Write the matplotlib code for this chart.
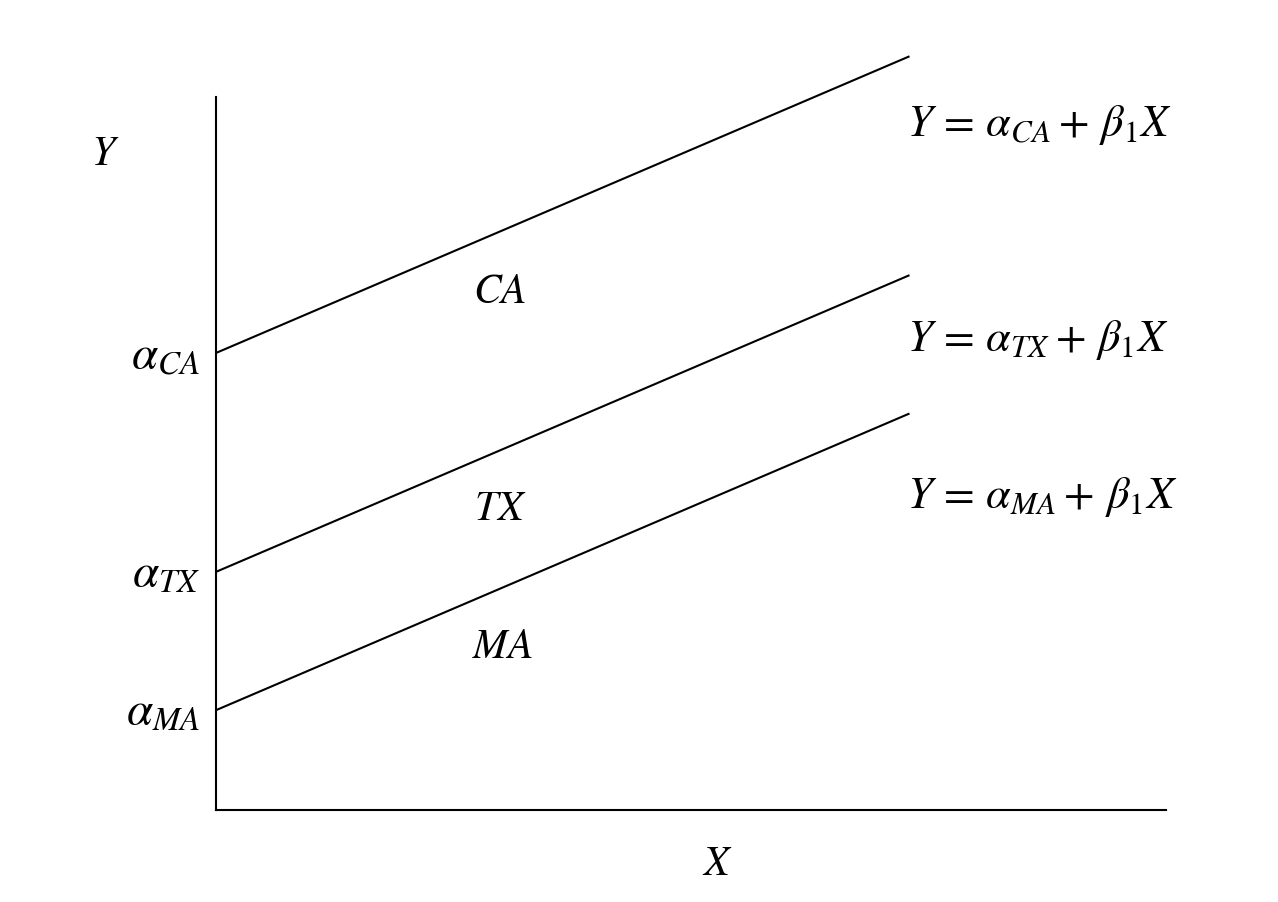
import matplotlib.pyplot as plt
import numpy as np

plt.rcParams['mathtext.fontset'] = 'stix'
plt.rcParams['font.family'] = ['Liberation Serif', 'DejaVu Serif']

# groups and their intercepts, common slope
groups = ['CA', 'TX', 'MA']
intercepts = [6.41, 3.34, 1.40]
slope = 0.57
x_end = 7.3

fig = plt.figure(figsize=(12.78, 9.02), dpi=100)
ax = fig.add_axes([216 / 1278, 92 / 902, 950 / 1278, 713 / 902])
ax.set_xlim(0, 10)
ax.set_ylim(0, 10)

xs = np.array([0, x_end])
for g, a in zip(groups, intercepts):
    ax.plot(xs, a + slope * xs, color='black', lw=1.5,
            solid_capstyle='butt', clip_on=False)

for s in ['top', 'right']:
    ax.spines[s].set_visible(False)
for s in ['left', 'bottom']:
    ax.spines[s].set_linewidth(1.5)
ax.set_xticks([])
ax.set_yticks([])

fs = 32
# intercept labels on the y axis
for g, a in zip(groups, intercepts):
    ax.text(-0.17, a - 0.05, r'$\alpha_{%s}$' % g, ha='right', va='center',
            fontsize=fs + 2, clip_on=False)

# group labels between the lines
label_pos = [(2.99, 7.25), (2.99, 4.21), (3.02, 2.27)]
for g, (lx, ly) in zip(groups, label_pos):
    ax.text(lx, ly, r'$%s$' % g, ha='center', va='center', fontsize=fs - 2)

# equations
eq_y = [9.61, 6.59, 4.39]
for g, ey in zip(groups, eq_y):
    ax.text(7.27, ey, r'$Y\,=\,\alpha_{%s}+\,\beta_1 X$' % g, ha='left',
            va='center', fontsize=fs, clip_on=False)

ax.text(-1.17, 9.19, r'$Y$', ha='center', va='center', fontsize=fs - 2,
        clip_on=False)
ax.text(5.28, -0.77, r'$X$', ha='center', va='center', fontsize=fs - 2,
        clip_on=False)

fig.savefig('out.png', dpi=100)
